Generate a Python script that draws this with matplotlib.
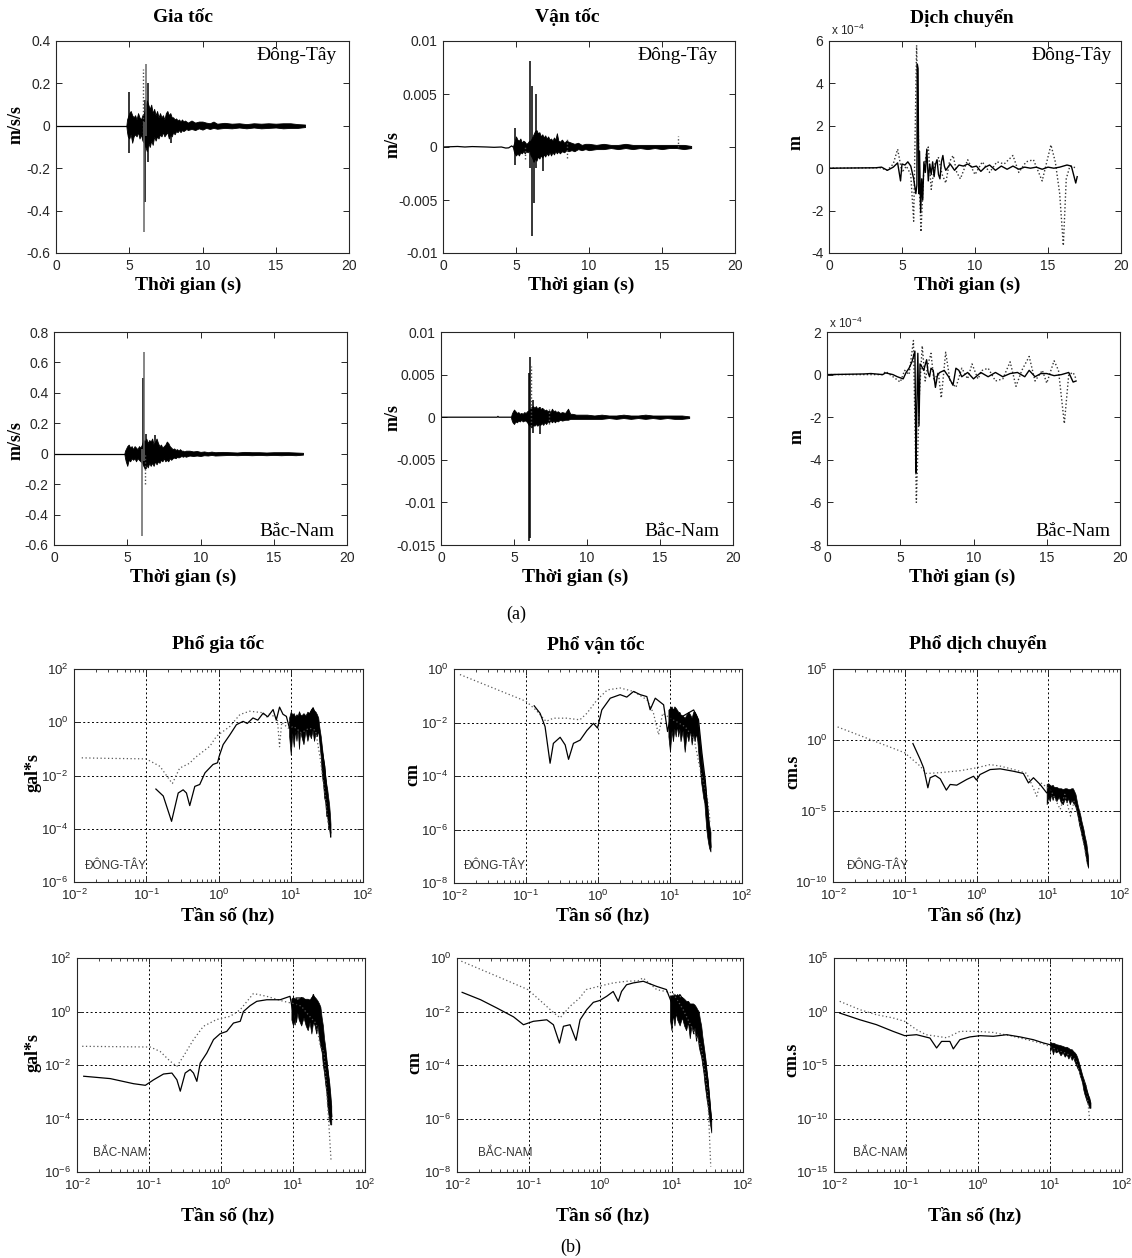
import numpy as np
import matplotlib
matplotlib.use('Agg')
import matplotlib.pyplot as plt
from matplotlib.ticker import (FixedLocator, NullLocator, NullFormatter, LogLocator,
                               LogFormatterSciNotation, FuncFormatter)

plt.rcParams['font.family'] = ['Liberation Sans', 'DejaVu Sans']
plt.rcParams['mathtext.default'] = 'regular'
plt.rcParams['axes.unicode_minus'] = False

# ---------------- time histories: (t, lo, hi) envelopes and spikes ----------------
# acceleration, Dong-Tay, m/s/s
acc_ew_pre = [(0, 0), (4.8, 0)]
acc_ew_env = [(4.8, 0, 0), (4.85, -0.03, 0.03), (4.9, -0.05, 0.04), (5.0, -0.06, 0.06), (5.1, -0.04, 0.07),
              (5.2, -0.08, 0.05), (5.3, -0.05, 0.04), (5.4, -0.04, 0.05), (5.5, -0.05, 0.03), (5.6, -0.03, 0.06),
              (5.7, -0.06, 0.04), (5.8, -0.04, 0.03), (5.9, -0.07, 0.05), (6.0, -0.08, 0.06), (6.1, -0.10, 0.08),
              (6.2, -0.12, 0.12), (6.3, -0.08, 0.10), (6.4, -0.10, 0.08), (6.5, -0.07, 0.10), (6.6, -0.09, 0.06),
              (6.7, -0.05, 0.08), (6.8, -0.07, 0.05), (6.9, -0.05, 0.07), (7.0, -0.06, 0.04), (7.1, -0.04, 0.06),
              (7.2, -0.05, 0.04), (7.3, -0.03, 0.05), (7.4, -0.05, 0.03), (7.5, -0.04, 0.06), (7.6, -0.03, 0.07),
              (7.7, -0.06, 0.05), (7.8, -0.04, 0.06), (7.9, -0.05, 0.04), (8.0, -0.03, 0.04), (8.1, -0.04, 0.03),
              (8.2, -0.025, 0.035), (8.3, -0.03, 0.025), (8.4, -0.02, 0.03), (8.5, -0.03, 0.02), (8.6, -0.02, 0.03),
              (8.7, -0.025, 0.02), (8.8, -0.02, 0.025), (8.9, -0.015, 0.02), (9.0, -0.02, 0.015),
              (9.25, -0.015, 0.025), (9.5, -0.02, 0.015), (9.75, -0.012, 0.02), (10.0, -0.018, 0.02),
              (10.25, -0.01, 0.015), (10.5, -0.015, 0.012), (10.75, -0.01, 0.02), (11.0, -0.014, 0.01),
              (11.5, -0.01, 0.014), (12.0, -0.012, 0.01), (12.5, -0.008, 0.012), (13.0, -0.012, 0.008),
              (13.5, -0.008, 0.012), (14.0, -0.012, 0.01), (14.5, -0.01, 0.012), (15.0, -0.008, 0.01),
              (15.5, -0.012, 0.012), (16.0, -0.01, 0.012), (16.5, -0.01, 0.008), (17.0, -0.006, 0.006)]
acc_ew_spikes = [(4.95, -0.13, 0.16), (6.08, -0.36, 0.12), (6.25, -0.17, 0.20), (7.85, -0.08, 0.03)]
acc_ew_gray = [(6.03, -0.50, 0.02), (6.11, -0.05, 0.29)]
acc_ew_dots = [(5.97, -0.05, 0.27)]

# velocity, Dong-Tay, m/s
vel_ew_pre = [(0, 0), (1.0, 0.00005), (1.5, 0.0), (2.0, 0.00004), (3.0, 0.0), (3.5, -0.00003), (4.0, 0.0),
              (4.3, -0.0001), (4.5, -0.00008), (4.7, 0.0001), (4.8, 0.0)]
vel_ew_env = [(4.8, -0.0001, 0.0001), (4.85, -0.0004, 0.0003), (4.9, -0.0006, 0.0005), (5.0, -0.0008, 0.0010),
              (5.1, -0.0006, 0.0007), (5.2, -0.0008, 0.0006), (5.3, -0.0005, 0.0008), (5.4, -0.0006, 0.0004),
              (5.5, -0.0004, 0.0006), (5.6, -0.0006, 0.0005), (5.7, -0.0004, 0.0003), (5.8, -0.0005, 0.0004),
              (5.9, -0.0003, 0.0006), (6.0, -0.0008, 0.0006), (6.1, -0.0010, 0.0009), (6.2, -0.0014, 0.0012),
              (6.3, -0.0011, 0.0015), (6.4, -0.0013, 0.0016), (6.5, -0.0009, 0.0013), (6.6, -0.0011, 0.0014),
              (6.7, -0.0008, 0.0010), (6.8, -0.0010, 0.0012), (6.9, -0.0007, 0.0009), (7.0, -0.0009, 0.0011),
              (7.1, -0.0006, 0.0008), (7.2, -0.0008, 0.0010), (7.3, -0.0005, 0.0007), (7.4, -0.0008, 0.0008),
              (7.5, -0.0005, 0.0006), (7.6, -0.0007, 0.0009), (7.7, -0.0004, 0.0007), (7.8, -0.0006, 0.0013),
              (7.9, -0.0004, 0.0006), (8.0, -0.0006, 0.0005), (8.15, -0.0004, 0.0007), (8.3, -0.0005, 0.0004),
              (8.45, -0.0003, 0.0006), (8.6, -0.0004, 0.0005), (8.8, -0.0003, 0.0004), (9.0, -0.0004, 0.0003),
              (9.25, -0.0002, 0.0004), (9.5, -0.0003, 0.0002), (9.75, -0.0002, 0.0003), (10.0, -0.0003, 0.0003),
              (10.5, -0.0002, 0.0002), (11.0, -0.0002, 0.0003), (11.5, -0.0001, 0.0002), (12.0, -0.0002, 0.0002),
              (12.5, -0.0001, 0.0003), (13.0, -0.0002, 0.0002), (13.5, -0.0001, 0.0002), (14.0, -0.0002, 0.0002),
              (14.5, -0.0001, 0.0002), (15.0, -0.0002, 0.0002), (15.5, -0.0001, 0.0002), (16.0, -0.0001, 0.0002),
              (16.5, -0.0002, 0.0002), (17.0, -0.0001, 0.0001)]
vel_ew_spikes = [(4.95, -0.0017, 0.0018), (5.95, -0.0020, 0.0081), (6.1, -0.0084, 0.0058), (6.2, -0.0053, 0.0),
                 (6.4, -0.0020, 0.0050), (6.85, -0.0023, 0.0005)]
vel_ew_gray = []
vel_ew_dots = [(5.6, -0.0011, 0.0), (8.5, -0.0010, 0.0008), (16.1, 0.0, 0.0010)]

# displacement, Dong-Tay, units of 1e-4 m
disp_ew_solid = [(0, 0), (3.2, 0.02), (3.6, 0.05), (4.0, -0.1), (4.4, 0.05), (4.7, 0.25), (4.9, -0.6), (5.0, 0.2),
                 (5.2, 0.15), (5.4, 0.3), (5.6, 0.1), (5.8, -0.5), (5.95, -1.2), (6.02, -0.8), (6.05, 4.9),
                 (6.1, 4.7), (6.15, -1.2), (6.2, 0.8), (6.28, -2.1), (6.35, -0.5), (6.42, -1.5), (6.5, 0.3),
                 (6.6, -0.2), (6.7, 0.9), (6.8, -0.6), (6.9, 0.2), (7.0, -0.3), (7.1, 0.3), (7.2, -0.4), (7.3, 0.2),
                 (7.4, 0.4), (7.5, -0.3), (7.6, -0.5), (7.7, 0.3), (7.8, 0.6), (7.9, 0.1), (8.0, -0.1), (8.3, 0.2),
                 (8.6, -0.1), (8.9, 0.15), (9.2, 0.1), (9.5, 0.2), (9.8, 0.05), (10.1, 0.1), (10.4, -0.15),
                 (10.7, 0.05), (11.0, 0.15), (11.4, -0.1), (11.8, 0.1), (12.2, -0.05), (12.6, 0.1), (13.0, -0.05),
                 (13.4, 0.05), (13.8, 0.0), (14.2, 0.05), (14.6, -0.05), (15.0, 0.05), (15.4, 0.0), (15.8, 0.05),
                 (16.3, 0.15), (16.6, 0.1), (16.9, -0.7), (17.0, -0.4)]
disp_ew_dot = [(0, 0), (3.5, 0.02), (4.0, -0.1), (4.4, 0.2), (4.7, 0.9), (5.0, -0.2), (5.3, 0.1), (5.6, -0.3),
               (5.8, -2.5), (6.0, 5.8), (6.2, -1.0), (6.3, -3.0), (6.5, 0.0), (6.65, 0.6), (6.8, 1.0), (7.0, -1.0),
               (7.25, 0.2), (7.5, 0.5), (7.75, -0.3), (8.0, -0.7), (8.25, 0.3), (8.5, 0.6), (8.75, -0.2),
               (9.0, -0.5), (9.5, 0.4), (10.0, -0.3), (10.5, 0.3), (11.0, -0.2), (11.5, 0.3), (12.0, 0.2),
               (12.6, 0.6), (13.0, -0.2), (13.5, 0.3), (14.0, 0.4), (14.6, -0.6), (15.2, 1.1), (15.5, 0.3),
               (15.8, -1.2), (16.05, -3.65), (16.25, -0.5), (16.5, 0.1), (17.0, 0.0)]

# acceleration, Bac-Nam
acc_ns_pre = [(0, 0), (4.8, 0)]
acc_ns_env = [(4.8, 0, 0), (4.85, -0.03, 0.02), (4.9, -0.05, 0.03), (5.0, -0.08, 0.05), (5.1, -0.04, 0.06),
              (5.2, -0.05, 0.04), (5.3, -0.03, 0.05), (5.4, -0.04, 0.03), (5.5, -0.03, 0.05), (5.6, -0.05, 0.04),
              (5.7, -0.03, 0.03), (5.8, -0.04, 0.05), (5.9, -0.05, 0.04), (6.0, -0.06, 0.06), (6.1, -0.08, 0.09),
              (6.2, -0.10, 0.08), (6.3, -0.07, 0.10), (6.4, -0.09, 0.07), (6.5, -0.06, 0.09), (6.6, -0.08, 0.08),
              (6.7, -0.06, 0.10), (6.8, -0.08, 0.06), (6.9, -0.05, 0.08), (7.0, -0.07, 0.10), (7.1, -0.05, 0.07),
              (7.2, -0.06, 0.05), (7.3, -0.04, 0.06), (7.4, -0.05, 0.04), (7.5, -0.03, 0.05), (7.6, -0.05, 0.06),
              (7.7, -0.04, 0.08), (7.8, -0.05, 0.07), (7.9, -0.03, 0.05), (8.0, -0.04, 0.04), (8.1, -0.03, 0.03),
              (8.2, -0.025, 0.035), (8.3, -0.03, 0.025), (8.4, -0.02, 0.03), (8.5, -0.025, 0.02), (8.6, -0.02, 0.03),
              (8.7, -0.015, 0.02), (8.8, -0.02, 0.02), (8.9, -0.015, 0.015), (9.0, -0.02, 0.02),
              (9.25, -0.012, 0.02), (9.5, -0.015, 0.015), (9.75, -0.012, 0.018), (10.0, -0.015, 0.012),
              (10.25, -0.01, 0.015), (10.5, -0.012, 0.01), (10.75, -0.008, 0.014), (11.0, -0.012, 0.01),
              (11.5, -0.01, 0.012), (12.0, -0.008, 0.01), (12.5, -0.01, 0.008), (13.0, -0.008, 0.012),
              (13.5, -0.01, 0.01), (14.0, -0.008, 0.01), (14.5, -0.01, 0.008), (15.0, -0.008, 0.01),
              (15.5, -0.01, 0.01), (16.0, -0.008, 0.01), (16.5, -0.01, 0.008), (17.0, -0.006, 0.006)]
acc_ns_spikes = [(6.05, -0.05, 0.50), (6.3, -0.10, 0.13), (6.9, -0.03, 0.12)]
acc_ns_gray = [(6.02, -0.54, 0.03), (6.12, -0.05, 0.67)]
acc_ns_dots = [(6.2, -0.20, 0.0)]

# velocity, Bac-Nam
vel_ns_pre = [(0, 0), (3.85, 0), (3.9, 0.0001), (3.95, 0), (4.8, 0)]
vel_ns_env = [(4.8, -0.0001, 0.0001), (4.85, -0.0004, 0.0004), (4.9, -0.0006, 0.0006), (5.0, -0.0008, 0.0009),
              (5.1, -0.0005, 0.0007), (5.2, -0.0006, 0.0005), (5.3, -0.0004, 0.0006), (5.4, -0.0005, 0.0004),
              (5.5, -0.0003, 0.0005), (5.6, -0.0005, 0.0004), (5.7, -0.0004, 0.0006), (5.8, -0.0004, 0.0005),
              (5.9, -0.0006, 0.0007), (6.0, -0.0009, 0.0008), (6.1, -0.0010, 0.0010), (6.2, -0.0012, 0.0012),
              (6.3, -0.0009, 0.0013), (6.4, -0.0010, 0.0011), (6.5, -0.0008, 0.0013), (6.6, -0.0010, 0.0010),
              (6.7, -0.0008, 0.0012), (6.8, -0.0009, 0.0009), (6.9, -0.0007, 0.0011), (7.0, -0.0009, 0.0010),
              (7.1, -0.0006, 0.0008), (7.2, -0.0008, 0.0009), (7.3, -0.0005, 0.0007), (7.4, -0.0006, 0.0008),
              (7.5, -0.0004, 0.0006), (7.6, -0.0006, 0.0010), (7.7, -0.0004, 0.0007), (7.8, -0.0006, 0.0008),
              (7.9, -0.0004, 0.0006), (8.0, -0.0005, 0.0007), (8.15, -0.0003, 0.0005), (8.3, -0.0004, 0.0006),
              (8.5, -0.0003, 0.0005), (8.7, -0.0003, 0.0010), (8.85, -0.0002, 0.0004), (9.0, -0.0002, 0.0004),
              (9.25, -0.0002, 0.0003), (9.5, -0.0002, 0.0003), (10.0, -0.0002, 0.0003), (10.5, -0.0002, 0.0002),
              (11.0, -0.0002, 0.0003), (11.5, -0.0001, 0.0002), (12.0, -0.0002, 0.0002), (12.5, -0.0001, 0.0003),
              (13.0, -0.0002, 0.0002), (13.5, -0.0001, 0.0002), (14.0, -0.0002, 0.0003), (14.5, -0.0001, 0.0002),
              (15.0, -0.0002, 0.0002), (15.5, -0.0001, 0.0002), (16.0, -0.0002, 0.0002), (16.5, -0.0002, 0.0002),
              (17.0, -0.0001, 0.0001)]
vel_ns_spikes = [(6.0, -0.0145, 0.0052), (6.09, -0.0142, 0.0071), (6.3, -0.0018, 0.0020), (6.75, -0.0020, 0.0012)]
vel_ns_gray = []
vel_ns_dots = [(6.15, -0.0010, 0.0060), (7.4, -0.0008, 0.0010)]

# displacement, Bac-Nam, units of 1e-4 m
disp_ns_solid = [(0, 0), (2.5, 0.03), (3.0, 0.05), (3.8, 0.0), (4.0, 0.08), (4.5, 0.0), (4.8, -0.1), (5.0, -0.15),
                 (5.2, -0.2), (5.4, 0.1), (5.6, 0.3), (5.8, 0.6), (6.0, 1.1), (6.08, -4.6), (6.12, -2.0), (6.2, 1.0),
                 (6.28, -2.4), (6.35, 0.5), (6.45, 0.4), (6.6, 0.2), (6.8, 0.7), (6.9, 0.1), (7.0, -0.1), (7.1, 0.3),
                 (7.25, 0.2), (7.4, -0.6), (7.55, 0.0), (7.7, 0.1), (8.0, 0.2), (8.3, -0.1), (8.6, -0.5), (8.8, 0.3),
                 (9.0, 0.2), (9.2, -0.1), (9.6, 0.1), (10.0, -0.2), (10.5, 0.1), (11.0, -0.1), (11.5, 0.1),
                 (12.0, -0.1), (12.5, 0.05), (13.0, 0.1), (13.5, -0.1), (13.8, 0.2), (14.2, -0.1), (14.6, 0.05),
                 (15.0, 0.05), (15.5, -0.05), (16.0, 0.0), (16.5, 0.1), (16.8, -0.35), (17.0, -0.3)]
disp_ns_dot = [(0, 0), (3.8, 0.0), (4.0, 0.15), (4.7, -0.2), (5.0, -0.35), (5.3, 0.2), (5.6, 0.0), (5.9, 1.6),
               (6.1, -6.0), (6.3, -1.0), (6.5, 1.35), (6.7, -0.3), (6.9, 0.5), (7.1, 1.0), (7.3, -0.3), (7.6, 0.1),
               (7.8, -1.1), (8.1, 1.05), (8.4, -0.3), (8.8, -0.6), (9.2, 0.3), (9.6, -0.2), (9.9, 0.5),
               (10.3, -0.2), (10.6, 0.2), (11.0, 0.3), (11.5, -0.3), (12.0, -0.2), (12.5, 0.6), (12.9, -0.55),
               (13.3, 0.2), (13.8, 0.85), (14.2, -0.3), (14.7, 0.2), (15.0, -0.4), (15.5, 0.65), (15.8, 0.2),
               (16.2, -2.3), (16.5, 0.0), (16.8, 0.1), (17.0, -0.2)]

# ---------------- Fourier spectra: (f [Hz], amplitude); bands (f, lo, hi) ----------------
spa_ew_solid = [(0.136, 3.1e-3), (0.172, 1.7e-3), (0.224, 1.9e-4), (0.277, 2.2e-3), (0.324, 2.9e-3), (0.36, 2.2e-3),
                (0.40, 7.4e-4), (0.47, 3.9e-3), (0.55, 4.6e-3), (0.65, 1.26e-2), (0.84, 2.6e-2), (0.97, 3.0e-2),
                (1.02, 5.2e-2), (1.16, 1.45e-1), (1.44, 3.4e-1), (1.77, 8.1e-1), (2.19, 1.08), (2.5, 0.9),
                (3.0, 1.45), (3.5, 1.2), (4.15, 2.2), (4.8, 1.6), (5.7, 3.0), (6.3, 1.2), (7.0, 3.7), (7.8, 2.0),
                (8.7, 1.66), (9.6, 0.6), (10.8, 0.93), (13.3, 1.66), (16.4, 1.26), (20.4, 3.5), (23.9, 0.93),
                (26.5, 0.126), (29.5, 2.2e-2), (32.8, 7e-4), (35.7, 7e-5)]
spa_ew_band = [(9.5, 0.3, 1.5), (10, 0.06, 2.5), (10.5, 0.4, 2.0), (11, 0.12, 2.2), (11.5, 0.5, 1.6), (12, 0.2, 2.0),
               (12.5, 0.6, 1.8), (13, 0.1, 2.6), (13.5, 0.5, 2.0), (14, 0.3, 1.8), (15, 0.15, 2.2), (16, 0.5, 1.8),
               (17, 0.2, 2.5), (18, 0.4, 2.2), (19, 0.25, 3.0), (20, 0.5, 3.5), (21, 0.2, 2.8), (22, 0.4, 2.5),
               (23, 0.3, 2.0), (24, 0.5, 1.5), (25, 0.15, 0.6), (26, 0.05, 0.3), (27, 0.01, 0.12), (28, 5e-3, 5e-2),
               (29, 1.5e-3, 2.5e-2), (30, 1e-3, 1e-2), (31, 3e-4, 5e-3), (32, 3e-4, 3e-3), (33, 1e-4, 1.5e-3),
               (34, 1e-4, 8e-4), (35, 5e-5, 3e-4), (35.5, 5e-5, 1.5e-4)]
spa_ew_dot = [(0.0128, 4.6e-2), (0.03, 4.4e-2), (0.06, 4.3e-2), (0.1, 4.2e-2), (0.155, 2.2e-2), (0.21, 6.9e-3),
              (0.23, 5e-3), (0.29, 1.9e-2), (0.4, 2.9e-2), (0.47, 4.6e-2), (0.76, 0.126), (0.94, 0.3), (1.44, 0.7),
              (1.98, 1.95), (2.7, 2.6), (4.0, 2.3), (4.6, 1.6), (5.0, 2.0), (6.5, 1.5), (7.0, 0.12), (7.5, 1.0),
              (9.2, 0.6), (11, 0.7), (14, 0.4), (18, 0.6), (22, 0.5), (25.7, 0.04), (30, 1.7e-3), (33, 1.5e-4),
              (35.7, 7e-5)]

spv_ew_solid = [(0.13, 4.2e-2), (0.157, 2.2e-2), (0.184, 7e-3), (0.216, 3.0e-4), (0.24, 1.66e-3), (0.298, 2.8e-3),
                (0.35, 1.45e-3), (0.39, 4.2e-4), (0.456, 1.66e-3), (0.565, 2.2e-3), (0.70, 5e-3), (0.865, 9.3e-3),
                (0.984, 6.2e-3), (1.13, 2.95e-2), (1.48, 8.1e-2), (2.03, 0.11), (2.51, 8.9e-2), (3.12, 0.145),
                (3.86, 0.11), (4.77, 9.3e-2), (5.3, 3e-2), (6.24, 8.1e-2), (8.15, 4.6e-2), (9.25, 4.6e-3),
                (10.6, 2.95e-2), (14.7, 1.66e-2), (21.3, 2.95e-2), (24.9, 1.26e-2), (27.8, 7e-4), (30.9, 7e-5),
                (34.4, 1.66e-6), (37.1, 2.2e-7)]
spv_ew_band = [(9.5, 3e-3, 3e-2), (10, 8e-4, 3.5e-2), (10.5, 5e-3, 4e-2), (11, 2e-3, 3e-2), (11.5, 6e-3, 4e-2),
               (12, 3e-3, 3.5e-2), (12.5, 8e-3, 3e-2), (13, 3e-3, 2.5e-2), (13.5, 6e-3, 2.5e-2), (14, 2e-3, 2e-2),
               (15, 5e-3, 1.8e-2), (16, 8e-4, 1.5e-2), (17, 4e-3, 2e-2), (18, 2e-3, 2.5e-2), (19, 5e-3, 2e-2),
               (20, 1.5e-3, 1.5e-2), (21, 4e-3, 2.5e-2), (22, 2e-3, 2.5e-2), (23, 4e-3, 2e-2), (24, 2e-3, 1.5e-2),
               (25, 5e-4, 6e-3), (26, 2e-4, 2e-3), (27, 6e-5, 8e-4), (28, 3e-5, 3e-4), (29, 1.5e-5, 1.5e-4),
               (30, 1e-5, 8e-5), (31, 3e-6, 4e-5), (32, 1e-6, 1.5e-5), (33, 5e-7, 8e-6), (34, 3e-7, 3e-6),
               (35, 2e-7, 1.5e-6), (36.5, 1.5e-7, 8e-7)]
spv_ew_dot = [(0.0121, 0.62), (0.1, 6.2e-2), (0.138, 2.9e-2), (0.19, 1.1e-2), (0.24, 1.45e-2), (0.368, 1.45e-2),
              (0.56, 1.26e-2), (0.70, 2.2e-2), (0.97, 7e-2), (1.35, 0.166), (2.03, 0.195), (3.12, 0.145),
              (4.8, 7e-2), (5.9, 2.2e-2), (6.94, 3.5e-3), (7.9, 2.2e-2), (10.8, 1.3e-2), (16.2, 7e-3),
              (21.5, 2.5e-3), (26, 2e-4), (33, 1.5e-5), (36, 2e-6)]

spd_ew_solid = [(0.13, 0.56), (0.164, 4.3e-2), (0.183, 1.1e-2), (0.21, 4.3e-4), (0.226, 2.2e-3), (0.266, 3.2e-3),
                (0.312, 1.86e-3), (0.38, 2.95e-4), (0.43, 7.4e-4), (0.53, 6.6e-4), (0.73, 1.66e-3), (0.91, 2.8e-3),
                (1.0, 1.5e-3), (1.12, 3.7e-3), (1.55, 8.3e-3), (2.14, 9.3e-3), (3.27, 6.3e-3), (4.5, 4.4e-3),
                (5.3, 9.5e-4), (6.22, 2.2e-3), (7.7, 7.4e-4), (9.5, 1.9e-4), (11.8, 4.3e-4), (16, 2e-4),
                (20, 2.5e-4), (22.5, 1.5e-4), (25, 2.2e-5), (27.8, 2.6e-6), (30.9, 1.7e-7), (34.4, 1.15e-8),
                (36.2, 1.3e-9)]
spd_ew_band = [(9.5, 3e-5, 8e-4), (10, 1e-4, 9e-4), (10.5, 5e-5, 7e-4), (11, 1.5e-4, 6e-4), (11.5, 6e-5, 7e-4),
               (12, 1.2e-4, 5e-4), (13, 5e-5, 5e-4), (14, 1e-4, 4e-4), (15, 4e-5, 4e-4), (16, 3e-5, 3.5e-4),
               (17, 8e-5, 4e-4), (18, 4e-5, 4e-4), (19, 8e-5, 3.5e-4), (20, 3e-5, 3.5e-4), (21, 6e-5, 4e-4),
               (22, 4e-5, 4e-4), (23, 3e-5, 2.5e-4), (24, 2e-5, 1.5e-4), (25, 8e-6, 5e-5), (26, 3e-6, 2e-5),
               (27, 1e-6, 1e-5), (28, 5e-7, 5e-6), (29, 2e-7, 2e-6), (30, 1e-7, 1e-6), (31, 5e-8, 5e-7),
               (32, 2e-8, 2e-7), (33, 8e-9, 1e-7), (34, 3e-9, 5e-8), (35, 2e-9, 1.5e-8), (36, 1e-9, 5e-9)]
spd_ew_dot = [(0.0116, 8.3), (0.1, 0.126), (0.164, 1.45e-2), (0.2, 4.4e-3), (0.31, 5e-3), (0.6, 7e-3),
              (1.0, 1.1e-2), (1.55, 1.86e-2), (2.14, 1.45e-2), (3.27, 8.5e-3), (5.0, 4.5e-3), (6.1, 5e-4),
              (6.9, 1.1e-4), (7.8, 1e-3), (10.8, 3e-4), (14.7, 1.3e-5), (17, 1.5e-4), (20.4, 4.4e-6),
              (23, 5e-5), (27, 3e-6), (35, 2e-9)]

spa_ns_solid = [(0.0124, 3.8e-3), (0.029, 3.1e-3), (0.061, 2.0e-3), (0.089, 1.74e-3), (0.116, 2.8e-3),
                (0.159, 4.6e-3), (0.208, 5e-3), (0.244, 2.8e-3), (0.272, 1.05e-3), (0.318, 5e-3), (0.373, 6.8e-3),
                (0.415, 5e-3), (0.462, 2.45e-3), (0.514, 1.17e-2), (0.635, 2.8e-2), (0.787, 8.9e-2),
                (0.973, 0.148), (1.2, 0.18), (1.49, 0.37), (1.85, 0.43), (2.05, 1.0), (2.54, 1.66), (3.14, 2.4),
                (4.32, 2.75), (6.62, 2.75), (9.1, 3.7), (10.7, 0.32), (11.0, 3.2), (13.9, 3.2), (17.3, 1.8),
                (19.2, 4.3), (22.5, 0.87), (25.1, 0.16), (27.9, 3.7e-2), (31.0, 3.8e-3), (34.5, 1.2e-4)]
spa_ns_band = [(9.5, 0.5, 3.0), (10, 0.3, 3.5), (10.5, 0.8, 3.0), (11, 0.4, 3.0), (11.5, 0.9, 2.8), (12, 0.5, 3.0),
               (13, 0.3, 3.5), (14, 0.6, 3.0), (15, 0.3, 3.0), (16, 0.2, 3.0), (17, 0.4, 2.8), (18, 0.15, 3.5),
               (19, 0.4, 4.0), (20, 0.3, 3.5), (21, 0.15, 3.0), (22, 0.3, 2.5), (23, 0.1, 2.0), (24, 0.05, 1.5),
               (25, 0.03, 0.6), (26, 0.01, 0.3), (27, 5e-3, 0.1), (28, 2e-3, 5e-2), (29, 1e-3, 2e-2),
               (30, 3e-4, 8e-3), (31, 1.5e-4, 4e-3), (32, 8e-5, 2e-3), (33, 6e-5, 8e-4), (34, 6e-5, 3e-4)]
spa_ns_dot = [(0.0118, 5e-2), (0.104, 4.7e-2), (0.143, 3.2e-2), (0.197, 1.38e-2), (0.244, 8.9e-3), (0.3, 2.1e-2),
              (0.415, 8.9e-2), (0.57, 0.28), (0.87, 0.5), (1.34, 0.66), (1.84, 1.15), (2.82, 4.7), (4.3, 3.7),
              (7.4, 2.4), (10, 2.0), (13, 1.6), (16, 0.8), (21, 0.35), (24, 0.05), (27, 3e-2), (31, 1.2e-4),
              (33.7, 2.9e-6)]

spv_ns_solid = [(0.0118, 5.2e-2), (0.0214, 2.75e-2), (0.0361, 1.35e-2), (0.0618, 6.3e-3), (0.085, 3.2e-3),
                (0.117, 4.3e-3), (0.18, 4.9e-3), (0.223, 3.2e-3), (0.271, 6.6e-4), (0.308, 2.8e-3), (0.381, 3.2e-3),
                (0.462, 8.3e-4), (0.526, 4.9e-3), (0.652, 1.17e-2), (0.807, 2.2e-2), (1.0, 2.6e-2), (1.24, 3.7e-2),
                (1.53, 5.6e-2), (1.8, 2.4e-2), (2.0, 5.6e-2), (2.35, 0.1), (2.92, 0.117), (4.03, 0.135),
                (6.18, 8.7e-2), (8.5, 6.6e-2), (10.5, 1.55e-2), (13.1, 4.3e-2), (16.2, 1.8e-2), (19, 8.7e-3),
                (22.3, 4.3e-3), (26.2, 1.17e-3), (29.2, 2.1e-4), (32.5, 2.1e-5), (36.1, 8e-7)]
spv_ns_band = [(9.5, 5e-3, 4e-2), (10, 2e-3, 4e-2), (10.5, 8e-3, 4e-2), (11, 3e-3, 4.5e-2), (11.5, 9e-3, 4e-2),
               (12, 5e-3, 4.5e-2), (13, 3e-3, 3.5e-2), (14, 6e-3, 3.5e-2), (15, 3e-3, 3e-2), (16, 2e-3, 2.5e-2),
               (17, 4e-3, 2.5e-2), (18, 1e-3, 2e-2), (19, 3e-3, 2e-2), (20, 1.5e-3, 2e-2), (21, 2.5e-3, 1.8e-2),
               (22, 8e-4, 1.5e-2), (23, 1.5e-3, 1.2e-2), (24, 5e-4, 1e-2), (25, 3e-4, 5e-3), (26, 2e-4, 3e-3),
               (27, 1e-4, 1.2e-3), (28, 5e-5, 6e-4), (29, 2e-5, 3e-4), (30, 1e-5, 1.5e-4), (31, 5e-6, 6e-5),
               (32, 3e-6, 3e-5), (33, 1.5e-6, 1.2e-5), (34, 8e-7, 5e-6), (35, 5e-7, 2e-6), (36, 3e-7, 1e-6)]
spv_ns_dot = [(0.0115, 0.76), (0.0374, 0.2), (0.098, 6.6e-2), (0.15, 2.4e-2), (0.228, 8.7e-3), (0.277, 5.8e-3),
              (0.38, 1.55e-2), (0.52, 3.2e-2), (0.64, 6.6e-2), (0.99, 8.9e-2), (1.53, 0.117), (2.35, 0.135),
              (3.4, 0.14), (4.0, 0.18), (6.2, 6.6e-2), (10.5, 4.9e-2), (14.5, 1.2e-2), (20, 2e-3), (26, 5e-4),
              (32, 1e-5), (35.4, 1.6e-8)]

spd_ns_solid = [(0.012, 0.72), (0.0228, 0.17), (0.0388, 5.9e-2), (0.066, 1.4e-2), (0.096, 5.5e-3), (0.14, 6.8e-3),
                (0.215, 3.3e-3), (0.266, 3.9e-4), (0.312, 1.6e-3), (0.407, 1.6e-3), (0.454, 3.2e-4), (0.56, 2.3e-3),
                (0.77, 4.2e-3), (1.07, 5.5e-3), (1.63, 4.8e-3), (2.5, 6.8e-3), (3.85, 4.2e-3), (5.9, 2.3e-3),
                (8.1, 1.15e-3), (10.0, 7.9e-4), (12, 3.9e-4), (15, 2e-4), (20, 1.3e-4), (22.4, 6.5e-5),
                (25, 1.07e-5), (27.7, 8.7e-7), (30.9, 1e-7), (34.4, 8.3e-9), (36.2, 2.8e-9)]
spd_ns_band = [(10, 2e-4, 1.5e-3), (10.5, 4e-4, 1.2e-3), (11, 1e-4, 1.2e-3), (11.5, 3e-4, 1.1e-3),
               (12, 1.5e-4, 9e-4), (13, 2e-4, 8e-4), (14, 8e-5, 7e-4), (15, 1.5e-4, 6e-4), (16, 6e-5, 5e-4),
               (17, 1e-4, 5e-4), (18, 4e-5, 4e-4), (19, 8e-5, 3e-4), (20, 3e-5, 3e-4), (21, 5e-5, 2e-4),
               (22, 2e-5, 1.5e-4), (23, 1e-5, 1e-4), (24, 5e-6, 5e-5), (25, 3e-6, 2e-5), (26, 1e-6, 8e-6),
               (27, 5e-7, 3e-6), (28, 2e-7, 1.2e-6), (29, 5e-8, 6e-7), (30, 2e-8, 3e-7), (31, 1e-8, 1.5e-7),
               (32, 5e-9, 6e-8), (33, 3e-9, 3e-8), (34, 2e-9, 1.5e-8), (35, 1e-9, 1e-8), (36.5, 1e-9, 3e-9)]
spd_ns_dot = [(0.012, 8.9), (0.0228, 1.5), (0.0388, 0.5), (0.066, 0.25), (0.096, 0.12), (0.14, 2e-2),
              (0.19, 6.8e-3), (0.27, 4.8e-3), (0.37, 3.5e-3), (0.56, 1.4e-2), (0.96, 1.4e-2), (1.63, 1.1e-2),
              (2.8, 5.5e-3), (4.8, 2.3e-3), (8, 1e-3), (12, 3e-4), (17, 1.2e-4), (23, 3e-5), (27, 1e-6),
              (32, 1e-7), (35.5, 8e-11)]

# ---------------- figure ----------------
W, H = 1132, 1258
fig = plt.figure(figsize=(W / 100, H / 100), dpi=100)
SERIF = ['Liberation Serif', 'DejaVu Serif']
SANS = ['Liberation Sans', 'DejaVu Sans']


def add_ax(l, t, r, b):
    return fig.add_axes([l / W, 1 - b / H, (r - l) / W, (b - t) / H])


def put(x, y, s, size, bold=True, serif=True, rot=0, color='k'):
    fig.text(x / W, 1 - y / H, s, fontsize=size, fontweight='bold' if bold else 'normal',
             family=SERIF if serif else SANS, rotation=rot, color=color, ha='center', va='center')


def frame(ax):
    for sp in ax.spines.values():
        sp.set_linewidth(0.8)
        sp.set_color('0.15')


def style_time(ax, ylim, yticks):
    ax.set_xlim(0, 20)
    ax.set_ylim(*ylim)
    ax.set_xticks([0, 5, 10, 15, 20])
    ax.set_yticks(yticks)
    ax.yaxis.set_major_formatter(FuncFormatter(lambda v, p: '%g' % v))
    ax.tick_params(direction='in', top=True, right=True, length=4, width=0.7, labelsize=10, pad=4,
                   colors='0.15')
    frame(ax)


def wave(ax, pre, env, spikes, gray, dots):
    t, v = np.array(pre).T
    ax.plot(t, v, color='k', lw=0.9)
    e = np.array(env)
    ax.fill_between(e[:, 0], e[:, 1], e[:, 2], color='k', lw=0.6)
    if spikes:
        s = np.array(spikes)
        ax.vlines(s[:, 0], s[:, 1], s[:, 2], color='k', lw=1.1)
    if gray:
        s = np.array(gray)
        ax.vlines(s[:, 0], s[:, 1], s[:, 2], color='0.4', lw=1.1)
    if dots:
        s = np.array(dots)
        ax.vlines(s[:, 0], s[:, 1], s[:, 2], color='0.3', lw=1.0, linestyles=(0, (1, 1.5)))


def disp(ax, solid, dotted):
    t, v = np.array(dotted).T
    ax.plot(t, v, color='0.2', ls=(0, (1, 1.6)), lw=1.0)
    t, v = np.array(solid).T
    ax.plot(t, v, color='k', lw=1.0)


def spec(ax, solid, band, dotted, ylim, yticks):
    f, v = np.array(dotted).T
    ax.plot(f, v, color='0.35', ls=(0, (1, 2)), lw=0.9)
    b = np.array(band)
    ax.fill_between(b[:, 0], b[:, 1], b[:, 2], color='k', lw=0.5)
    f, v = np.array(solid).T
    ax.plot(f, v, color='k', lw=0.9)
    ax.set_xscale('log')
    ax.set_yscale('log')
    ax.set_xlim(1e-2, 1e2)
    ax.set_ylim(*ylim)
    ax.xaxis.set_major_locator(FixedLocator([1e-2, 1e-1, 1, 10, 100]))
    ax.xaxis.set_minor_locator(LogLocator(base=10, subs=np.arange(2, 10), numticks=20))
    ax.xaxis.set_minor_formatter(NullFormatter())
    ax.yaxis.set_major_locator(FixedLocator(yticks))
    ax.yaxis.set_minor_locator(NullLocator())
    ax.xaxis.set_major_formatter(LogFormatterSciNotation())
    ax.yaxis.set_major_formatter(LogFormatterSciNotation())
    ax.grid(True, which='major', color='k', ls=(0, (2, 2.5)), lw=0.7)
    ax.tick_params(which='both', direction='in', top=True, right=True, labelsize=9.5, colors='0.15', pad=4)
    ax.tick_params(which='major', length=4, width=0.7)
    ax.tick_params(which='minor', length=2, width=0.6)
    frame(ax)


# row (a) top: Dong-Tay
ax = add_ax(56, 41, 349, 253)
wave(ax, acc_ew_pre, acc_ew_env, acc_ew_spikes, acc_ew_gray, acc_ew_dots)
style_time(ax, (-0.6, 0.4), [-0.6, -0.4, -0.2, 0, 0.2, 0.4])
ax = add_ax(443, 41, 735, 253)
wave(ax, vel_ew_pre, vel_ew_env, vel_ew_spikes, vel_ew_gray, vel_ew_dots)
style_time(ax, (-0.01, 0.01), [-0.01, -0.005, 0, 0.005, 0.01])
ax = add_ax(829, 41, 1121, 253)
disp(ax, disp_ew_solid, disp_ew_dot)
style_time(ax, (-4, 6), [-4, -2, 0, 2, 4, 6])

# row (a) bottom: Bac-Nam
ax = add_ax(54, 332, 347, 545)
wave(ax, acc_ns_pre, acc_ns_env, acc_ns_spikes, acc_ns_gray, acc_ns_dots)
style_time(ax, (-0.6, 0.8), [-0.6, -0.4, -0.2, 0, 0.2, 0.4, 0.6, 0.8])
ax = add_ax(441, 332, 733, 545)
wave(ax, vel_ns_pre, vel_ns_env, vel_ns_spikes, vel_ns_gray, vel_ns_dots)
style_time(ax, (-0.015, 0.01), [-0.015, -0.01, -0.005, 0, 0.005, 0.01])
ax = add_ax(827, 332, 1120, 545)
disp(ax, disp_ns_solid, disp_ns_dot)
style_time(ax, (-8, 2), [-8, -6, -4, -2, 0, 2])

# row (b) top: spectra Dong-Tay
ax = add_ax(74, 669, 363, 882)
spec(ax, spa_ew_solid, spa_ew_band, spa_ew_dot, (1e-6, 1e2), [1e-6, 1e-4, 1e-2, 1e0, 1e2])
ax = add_ax(454, 669, 742, 883)
spec(ax, spv_ew_solid, spv_ew_band, spv_ew_dot, (1e-8, 1e0), [1e-8, 1e-6, 1e-4, 1e-2, 1e0])
ax = add_ax(833, 669, 1120, 882)
spec(ax, spd_ew_solid, spd_ew_band, spd_ew_dot, (1e-10, 1e5), [1e-10, 1e-5, 1e0, 1e5])

# row (b) bottom: spectra Bac-Nam
ax = add_ax(77, 958, 365, 1172)
spec(ax, spa_ns_solid, spa_ns_band, spa_ns_dot, (1e-6, 1e2), [1e-6, 1e-4, 1e-2, 1e0, 1e2])
ax = add_ax(457, 958, 743, 1172)
spec(ax, spv_ns_solid, spv_ns_band, spv_ns_dot, (1e-8, 1e0), [1e-8, 1e-6, 1e-4, 1e-2, 1e0])
ax = add_ax(834, 958, 1122, 1172)
spec(ax, spd_ns_solid, spd_ns_band, spd_ns_dot, (1e-15, 1e5), [1e-15, 1e-10, 1e-5, 1e0, 1e5])

# ---------------- texts ----------------
put(183, 17, 'Gia tốc', 14)
put(567, 17, 'Vận tốc', 14)
put(962, 18, 'Dịch chuyển', 14)
for x, y in [(188, 285), (581, 285), (967, 285), (183, 577), (575, 577), (962, 577)]:
    put(x, y, 'Thời gian (s)', 14)
put(16, 125, 'm/s/s', 13, rot=90)
put(393, 145, 'm/s', 13, rot=90)
put(796, 143, 'm', 13, rot=90)
put(16, 440, 'm/s/s', 13, rot=90)
put(393, 418, 'm/s', 13, rot=90)
put(797, 437, 'm', 13, rot=90)
for x in (297, 678, 1072):
    put(x, 56, 'Đông-Tây', 14, bold=False)
for x in (297, 682, 1073):
    put(x, 532, 'Bắc-Nam', 14, bold=False)
put(848, 30, 'x 10$^{-4}$', 8.5, bold=False, serif=False, color='0.15')
put(846, 323, 'x 10$^{-4}$', 8.5, bold=False, serif=False, color='0.15')
put(516, 614, '(a)', 13, bold=False)

put(218, 644, 'Phổ gia tốc', 14)
put(596, 645, 'Phổ vận tốc', 14)
put(978, 644, 'Phổ dịch chuyển', 14)
for x, y in [(228, 916), (603, 916), (975, 916), (228, 1216), (603, 1216), (975, 1216)]:
    put(x, y, 'Tần số (hz)', 14)
put(33, 772, 'gal*s', 13, rot=90)
put(413, 774, 'cm', 13, rot=90)
put(793, 772, 'cm.s', 13, rot=90)
put(33, 1053, 'gal*s', 13, rot=90)
put(415, 1062, 'cm', 13, rot=90)
put(792, 1060, 'cm.s', 13, rot=90)
for x in (116, 495, 878):
    put(x, 866, 'ĐÔNG-TÂY', 8.5, bold=False, serif=False, color='0.2')
for x in (120, 505, 880):
    put(x, 1153, 'BẮC-NAM', 8.5, bold=False, serif=False, color='0.2')
put(571, 1247, '(b)', 13, bold=False)

fig.savefig('out.png', dpi=100)
